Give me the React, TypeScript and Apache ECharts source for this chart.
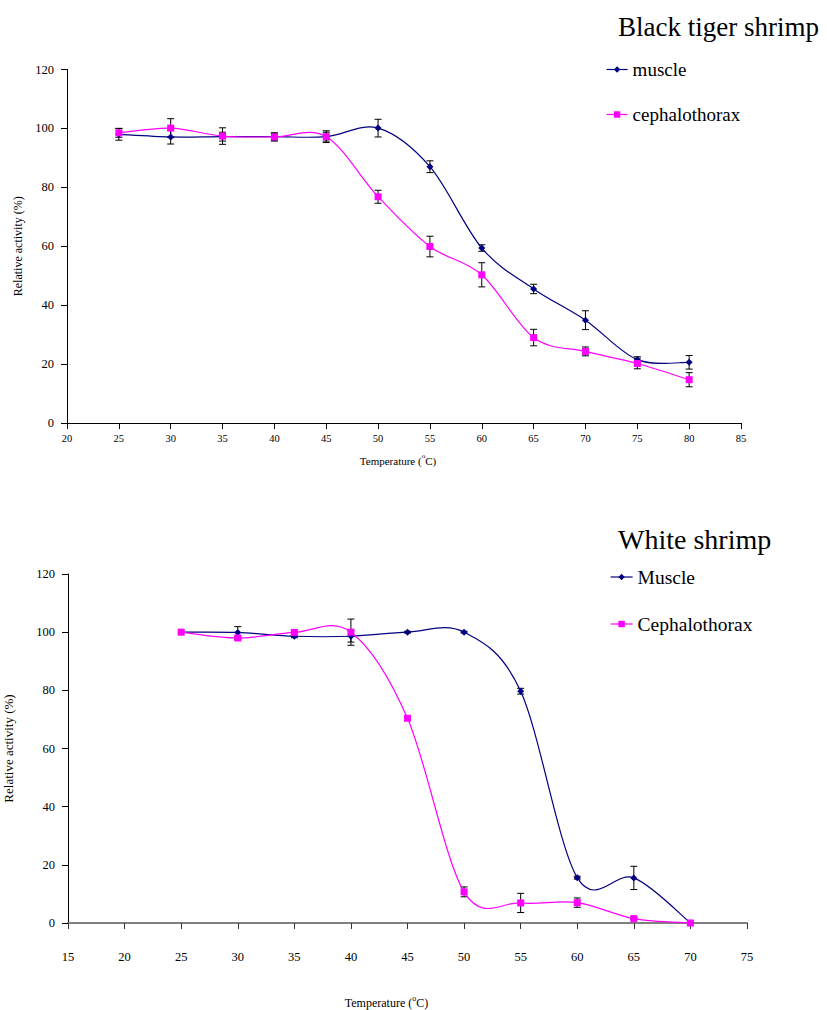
import React, { useEffect, useRef } from "react";
import * as echarts from "echarts";

// ---- Data: Black tiger shrimp (top) ----
const tigerTemps = [25, 30, 35, 40, 45, 50, 55, 60, 65, 70, 75, 80];
const tigerMuscle = [98.0, 97.1, 97.2, 97.2, 97.2, 100.1, 87.0, 59.4, 45.5, 34.9, 21.5, 20.6];
const tigerMuscleErr = [2.0, 2.4, 1.5, 1.2, 1.5, 3.0, 2.0, 1.1, 1.6, 3.2, 1.0, 2.3];
const tigerCeph = [98.5, 100.1, 97.4, 97.1, 97.2, 76.8, 59.9, 50.3, 29.0, 24.3, 20.2, 14.7];
const tigerCephErr = [1.5, 3.2, 2.8, 1.4, 2.0, 2.2, 3.5, 4.1, 2.8, 1.5, 1.8, 2.4];

// ---- Data: White shrimp (bottom) ----
const whiteTemps = [25, 30, 35, 40, 45, 50, 55, 60, 65, 70];
const whiteMuscle = [100.0, 99.9, 98.6, 98.6, 100.0, 100.0, 79.7, 15.6, 15.5, 0];
const whiteMuscleErr = [0, 2.0, 0.5, 2.0, 0.3, 0.3, 1.0, 0.5, 4.0, 0];
const whiteCeph = [100.0, 98.0, 99.9, 100.0, 70.4, 10.7, 6.9, 7.0, 1.5, 0];
const whiteCephErr = [0, 0.5, 1.0, 4.5, 0.5, 1.7, 3.3, 1.6, 0.3, 0];

// ---- Tick settings ----
const yTicks = { min: 0, max: 120, interval: 20 };
const tigerX = { min: 20, max: 85, interval: 5 };
const whiteX = { min: 15, max: 75, interval: 5 };

const SERIF = "Liberation Serif";
const NAVY = "#000080";
const MAGENTA = "#FF00FF";

const zip = (xs: number[], ys: number[]) => xs.map((x, i) => [x, ys[i]]);
const zip3 = (xs: number[], ys: number[], es: number[]) => xs.map((x, i) => [x, ys[i], es[i]]);

const errRender = (params: any, api: any) => {
  const x = api.value(0);
  const y = api.value(1);
  const e = api.value(2);
  if (!e) return { type: "group", children: [] };
  const hi = api.coord([x, y + e]);
  const lo = api.coord([x, y - e]);
  const cap = 3.5;
  const st = { stroke: "#000", lineWidth: 1 };
  return {
    type: "group",
    children: [
      { type: "line", shape: { x1: hi[0], y1: hi[1], x2: lo[0], y2: lo[1] }, style: st },
      { type: "line", shape: { x1: hi[0] - cap, y1: hi[1], x2: hi[0] + cap, y2: hi[1] }, style: st },
      { type: "line", shape: { x1: lo[0] - cap, y1: lo[1], x2: lo[0] + cap, y2: lo[1] }, style: st },
    ],
  };
};

// Excel-style smoothed segment (Catmull-Rom, 1/6 tension) between point i and i+1
const curveRender = (xs: number[], ys: number[], color: string) => (params: any, api: any) => {
  const i = params.dataIndex;
  const n = xs.length;
  if (i >= n - 1) return { type: "group", children: [] };
  const P = (j: number) => {
    const k = Math.max(0, Math.min(n - 1, j));
    return api.coord([xs[k], ys[k]]);
  };
  const p0 = P(i - 1), p1 = P(i), p2 = P(i + 1), p3 = P(i + 2);
  const c1 = [p1[0] + (p2[0] - p0[0]) / 6, p1[1] + (p2[1] - p0[1]) / 6];
  const c2 = [p2[0] - (p3[0] - p1[0]) / 6, p2[1] - (p3[1] - p1[1]) / 6];
  return {
    type: "bezierCurve",
    shape: { x1: p1[0], y1: p1[1], x2: p2[0], y2: p2[1], cpx1: c1[0], cpy1: c1[1], cpx2: c2[0], cpy2: c2[1] },
    style: { stroke: color, lineWidth: 1.2, fill: null },
  };
};

const tempName = "{a|Temperature (}{s|o}{a|C)}";

export default function App() {
  const ref = useRef<HTMLDivElement>(null);
  useEffect(() => {
    document.body.style.margin = "0";
    if (!ref.current) return;
    const chart = echarts.init(ref.current, undefined, { renderer: "svg" });

    const markerSeries = (name: string, xi: number, xs: number[], ys: number[], color: string, symbol: string, size: number) => ({
      name,
      type: "line",
      xAxisIndex: xi,
      yAxisIndex: xi,
      data: zip(xs, ys),
      symbol,
      symbolSize: size,
      itemStyle: { color },
      lineStyle: { color, width: 1.2, opacity: 0 },
      z: 4,
    });
    const curveSeries = (name: string, xi: number, xs: number[], ys: number[], color: string) => ({
      name: name + " curve",
      type: "custom",
      xAxisIndex: xi,
      yAxisIndex: xi,
      data: zip(xs, ys),
      renderItem: curveRender(xs, ys, color),
      itemStyle: { color },
      z: 3,
      silent: true,
    });
    const errSeries = (xi: number, xs: number[], ys: number[], es: number[]) => ({
      type: "custom",
      xAxisIndex: xi,
      yAxisIndex: xi,
      data: zip3(xs, ys, es),
      renderItem: errRender,
      z: 2,
      silent: true,
    });

    const yAxisBase = (gridIndex: number, nameGap: number, nameSize: number) => ({
      gridIndex,
      type: "value",
      ...yTicks,
      name: "Relative activity (%)",
      nameLocation: "middle",
      nameRotate: 90,
      nameGap,
      nameTextStyle: { fontFamily: SERIF, fontSize: nameSize, color: "#000" },
      axisLine: { show: true, lineStyle: { color: "#000", width: 1 } },
      axisTick: { show: true, inside: false, length: 6, lineStyle: { color: "#000" } },
      axisLabel: { fontFamily: SERIF, fontSize: 12.5, color: "#000", margin: 13 },
      splitLine: { show: false },
    });

    const legendCommon = {
      orient: "vertical",
      padding: 0,
      itemHeight: 8,
      lineStyle: { opacity: 1, width: 1.2 },
    };

    const option: any = {
      animation: false,
      backgroundColor: "#fff",
      title: [
        {
          text: "Black tiger shrimp",
          left: 618,
          top: 13,
          padding: 0,
          textStyle: { fontFamily: SERIF, fontSize: 27, fontWeight: "normal", color: "#000" },
        },
        {
          text: "White shrimp",
          left: 618,
          top: 525,
          padding: 0,
          textStyle: { fontFamily: SERIF, fontSize: 28, fontWeight: "normal", color: "#000" },
        },
      ],
      legend: [
        {
          ...legendCommon,
          data: ["muscle", "cephalothorax"],
          left: 606,
          top: 60,
          itemWidth: 21,
          itemGap: 26,
          textStyle: { fontFamily: SERIF, fontSize: 19, color: "#000" },
        },
        {
          ...legendCommon,
          data: ["Muscle", "Cephalothorax"],
          left: 610,
          top: 567,
          itemWidth: 22,
          itemGap: 27,
          textStyle: { fontFamily: SERIF, fontSize: 19.5, color: "#000" },
        },
      ],
      grid: [
        { left: 67, top: 69.5, width: 674, height: 353.5, containLabel: false, outerBoundsMode: "none" },
        { left: 68, top: 574, width: 679, height: 349, containLabel: false, outerBoundsMode: "none" },
      ],
      xAxis: [
        {
          gridIndex: 0,
          type: "value",
          ...tigerX,
          name: tempName,
          nameLocation: "middle",
          nameGap: 29,
          nameTextStyle: {
            padding: [0, 12, 0, 0],
            rich: {
              a: { fontFamily: SERIF, fontSize: 11, color: "#000", lineHeight: 14, verticalAlign: "bottom" },
              s: { fontFamily: SERIF, fontSize: 7, color: "#000", lineHeight: 14, verticalAlign: "top", padding: [0, 0, 6, 0] },
            },
          },
          axisLine: { show: true, onZero: false, lineStyle: { color: "#000", width: 1 } },
          axisTick: { show: true, length: 6, lineStyle: { color: "#000" } },
          axisLabel: { fontFamily: SERIF, fontSize: 10.5, color: "#000", margin: 10 },
          splitLine: { show: false },
        },
        {
          gridIndex: 1,
          type: "value",
          ...whiteX,
          name: tempName,
          nameLocation: "middle",
          nameGap: 71,
          nameTextStyle: {
            padding: [0, 42, 0, 0],
            rich: {
              a: { fontFamily: SERIF, fontSize: 12, color: "#000", lineHeight: 15, verticalAlign: "bottom" },
              s: { fontFamily: SERIF, fontSize: 8, color: "#000", lineHeight: 15, verticalAlign: "top", padding: [0, 0, 7, 0] },
            },
          },
          axisLine: { show: true, onZero: false, lineStyle: { color: "#808080", width: 2 } },
          axisTick: { show: true, length: 6, lineStyle: { color: "#333" } },
          axisLabel: { fontFamily: SERIF, fontSize: 12.5, color: "#000", margin: 27 },
          splitLine: { show: false },
        },
      ],
      yAxis: [yAxisBase(0, 42, 12), yAxisBase(1, 53, 13)],
      series: [
        markerSeries("muscle", 0, tigerTemps, tigerMuscle, NAVY, "diamond", 7),
        markerSeries("cephalothorax", 0, tigerTemps, tigerCeph, MAGENTA, "rect", 7),
        errSeries(0, tigerTemps, tigerMuscle, tigerMuscleErr),
        errSeries(0, tigerTemps, tigerCeph, tigerCephErr),
        curveSeries("muscle", 0, tigerTemps, tigerMuscle, NAVY),
        curveSeries("cephalothorax", 0, tigerTemps, tigerCeph, MAGENTA),
        markerSeries("Muscle", 1, whiteTemps, whiteMuscle, NAVY, "diamond", 7),
        markerSeries("Cephalothorax", 1, whiteTemps, whiteCeph, MAGENTA, "rect", 7),
        errSeries(1, whiteTemps, whiteMuscle, whiteMuscleErr),
        errSeries(1, whiteTemps, whiteCeph, whiteCephErr),
        curveSeries("Muscle", 1, whiteTemps, whiteMuscle, NAVY),
        curveSeries("Cephalothorax", 1, whiteTemps, whiteCeph, MAGENTA),
      ],
    };
    chart.setOption(option);
    return () => chart.dispose();
  }, []);
  return <div ref={ref} style={{ width: 827, height: 1010 }} />;
}
